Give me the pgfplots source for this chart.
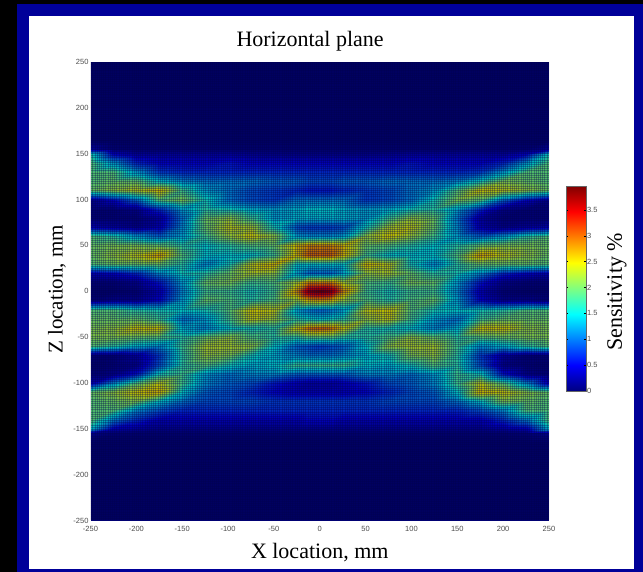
\documentclass[border=0pt]{standalone}
\usepackage{pgfplots}
\pgfplotsset{compat=1.18}
\usepackage{fontspec}
\setmainfont{Liberation Serif}
\newfontfamily\tickfont{Liberation Sans}
\definecolor{navyline}{rgb}{0,0,0.3}
\begin{document}
\begin{tikzpicture}[x=1pt,y=1pt]
\useasboundingbox (0,0) rectangle (643,572);
\fill[black] (0,0) rectangle (643,572);
\fill[black!0!blue!60!black] (17,0) rectangle (643,568);
\fill[white] (29,3) rectangle (634,556);
\begin{axis}[at={(90.5pt,51.5pt)},anchor=south west,scale only axis,width=458.5pt,height=458.5pt,
 xmin=-250,xmax=250,ymin=-250,ymax=250,
 xtick={-250,-200,...,250},ytick={-250,-200,...,250},
 tick style={draw=none},axis line style={draw=none},
 /pgf/number format/assume math mode=true,
 tick label style={font=\tickfont\fontsize{7.5}{8}\selectfont,text=black!70},
 xticklabel style={yshift=-2.5pt},yticklabel style={xshift=1.5pt},
 title={Horizontal plane},title style={font=\fontsize{22}{24}\selectfont,at={(axis description cs:0.479,1.033)},anchor=center},
 xlabel={X location, mm},xlabel style={font=\fontsize{22}{24}\selectfont,at={(axis description cs:0.5,-0.07)},anchor=center},
 ylabel={Z location, mm},ylabel style={font=\fontsize{21}{24}\selectfont,at={(axis description cs:-0.073,0.504)},anchor=center},
 colormap/jet,point meta min=0,point meta max=3.96,
]
\addplot[surf,shader=interp,mesh/cols=23,mesh/ordering=x varies,point meta=explicit] table[x=x,y=y,meta=v]{
x y v
-250 250 0.02
-225 250 0.02
-200 250 0.02
-175 250 0.02
-150 250 0.02
-125 250 0.02
-100 250 0.02
-75 250 0.02
-50 250 0.02
-25 250 0.02
-12.5 250 0.02
0 250 0.02
12.5 250 0.02
25 250 0.02
50 250 0.02
75 250 0.02
100 250 0.02
125 250 0.02
150 250 0.02
175 250 0.02
200 250 0.02
225 250 0.02
250 250 0.02
-250 165 0.03
-225 165 0.03
-200 165 0.03
-175 165 0.03
-150 165 0.03
-125 165 0.03
-100 165 0.03
-75 165 0.03
-50 165 0.03
-25 165 0.03
-12.5 165 0.04
0 165 0.04
12.5 165 0.04
25 165 0.03
50 165 0.03
75 165 0.03
100 165 0.03
125 165 0.03
150 165 0.03
175 165 0.03
200 165 0.03
225 165 0.03
250 165 0.03
-250 155 0.3
-225 155 0.1
-200 155 0.08
-175 155 0.08
-150 155 0.08
-125 155 0.08
-100 155 0.08
-75 155 0.08
-50 155 0.08
-25 155 0.08
-12.5 155 0.08
0 155 0.08
12.5 155 0.08
25 155 0.08
50 155 0.08
75 155 0.08
100 155 0.08
125 155 0.08
150 155 0.08
175 155 0.08
200 155 0.08
225 155 0.1
250 155 0.3
-250 150 1.6
-225 150 0.5
-200 150 0.3
-175 150 0.3
-150 150 0.3
-125 150 0.3
-100 150 0.3
-75 150 0.25
-50 150 0.2
-25 150 0.2
-12.5 150 0.2
0 150 0.2
12.5 150 0.2
25 150 0.2
50 150 0.2
75 150 0.25
100 150 0.3
125 150 0.3
150 150 0.3
175 150 0.3
200 150 0.3
225 150 0.5
250 150 1.6
-250 140 1.9
-225 140 1.3
-200 140 0.7
-175 140 0.5
-150 140 0.5
-125 140 0.5
-100 140 0.6
-75 140 0.5
-50 140 0.5
-25 140 0.5
-12.5 140 0.5
0 140 0.5
12.5 140 0.5
25 140 0.5
50 140 0.5
75 140 0.5
100 140 0.6
125 140 0.5
150 140 0.5
175 140 0.5
200 140 0.7
225 140 1.3
250 140 1.9
-250 130 1.9
-225 130 1.9
-200 130 1.3
-175 130 0.8
-150 130 0.7
-125 130 0.7
-100 130 0.7
-75 130 0.7
-50 130 0.7
-25 130 0.7
-12.5 130 0.7
0 130 0.7
12.5 130 0.7
25 130 0.7
50 130 0.7
75 130 0.7
100 130 0.7
125 130 0.7
150 130 0.7
175 130 0.8
200 130 1.3
225 130 1.9
250 130 1.9
-250 120 1.9
-225 120 2.0
-200 120 2.0
-175 120 1.5
-150 120 1.2
-125 120 1.1
-100 120 1.1
-75 120 1.1
-50 120 1.0
-25 120 1.0
-12.5 120 0.9
0 120 0.9
12.5 120 0.9
25 120 1.0
50 120 1.0
75 120 1.1
100 120 1.1
125 120 1.1
150 120 1.2
175 120 1.6
200 120 2.1
225 120 2.0
250 120 1.9
-250 110 2.0
-225 110 2.2
-200 110 2.4
-175 110 2.6
-150 110 1.8
-125 110 1.3
-100 110 1.1
-75 110 0.9
-50 110 0.8
-25 110 0.7
-12.5 110 0.6
0 110 0.6
12.5 110 0.6
25 110 0.7
50 110 0.8
75 110 0.9
100 110 1.1
125 110 1.3
150 110 1.9
175 110 2.5
200 110 2.4
225 110 2.2
250 110 2.0
-250 100 0.2
-225 100 0.5
-200 100 1.0
-175 100 1.9
-150 100 2.1
-125 100 1.6
-100 100 1.1
-75 100 0.9
-50 100 0.8
-25 100 1.1
-12.5 100 1.1
0 100 1.1
12.5 100 1.1
25 100 1.1
50 100 0.8
75 100 0.9
100 100 1.1
125 100 1.6
150 100 2.1
175 100 1.9
200 100 1.0
225 100 0.5
250 100 0.2
-250 90 0.1
-225 90 0.1
-200 90 0.2
-175 90 0.7
-150 90 1.3
-125 90 1.7
-100 90 1.6
-75 90 1.4
-50 90 1.3
-25 90 1.4
-12.5 90 1.5
0 90 1.5
12.5 90 1.5
25 90 1.4
50 90 1.3
75 90 1.4
100 90 1.6
125 90 1.7
150 90 1.3
175 90 0.7
200 90 0.2
225 90 0.1
250 90 0.1
-250 80 0.1
-225 80 0.1
-200 80 0.1
-175 80 0.3
-150 80 1.1
-125 80 2.0
-100 80 2.2
-75 80 1.8
-50 80 1.3
-25 80 1.4
-12.5 80 1.4
0 80 1.4
12.5 80 1.4
25 80 1.4
50 80 1.3
75 80 1.8
100 80 2.2
125 80 2.0
150 80 1.1
175 80 0.3
200 80 0.1
225 80 0.1
250 80 0.1
-250 70 0.4
-225 70 0.3
-200 70 0.2
-175 70 0.4
-150 70 1.2
-125 70 2.0
-100 70 2.4
-75 70 2.3
-50 70 1.6
-25 70 0.9
-12.5 70 0.8
0 70 0.8
12.5 70 0.8
25 70 0.9
50 70 1.6
75 70 2.3
100 70 2.4
125 70 2.0
150 70 1.2
175 70 0.4
200 70 0.2
225 70 0.3
250 70 0.4
-250 60 1.9
-225 60 1.7
-200 60 1.3
-175 60 1.0
-150 60 1.3
-125 60 1.8
-100 60 2.2
-75 60 2.5
-50 60 2.2
-25 60 1.3
-12.5 60 1.2
0 60 1.2
12.5 60 1.2
25 60 1.3
50 60 2.2
75 60 2.5
100 60 2.2
125 60 1.8
150 60 1.3
175 60 1.0
200 60 1.3
225 60 1.7
250 60 1.9
-250 50 2.0
-225 50 2.1
-200 50 2.1
-175 50 2.0
-150 50 1.7
-125 50 1.5
-100 50 1.7
-75 50 1.9
-50 50 2.0
-25 50 2.6
-12.5 50 2.8
0 50 2.8
12.5 50 2.8
25 50 2.6
50 50 2.0
75 50 1.9
100 50 1.7
125 50 1.5
150 50 1.7
175 50 2.0
200 50 2.1
225 50 2.1
250 50 2.0
-250 40 2.0
-225 40 2.2
-200 40 2.4
-175 40 2.7
-150 40 1.9
-125 40 1.5
-100 40 1.5
-75 40 1.5
-50 40 1.8
-25 40 2.6
-12.5 40 3.0
0 40 3.0
12.5 40 3.0
25 40 2.6
50 40 1.8
75 40 1.5
100 40 1.5
125 40 1.5
150 40 1.9
175 40 2.7
200 40 2.4
225 40 2.2
250 40 2.0
-250 30 1.9
-225 30 2.0
-200 30 2.0
-175 30 2.0
-150 30 1.7
-125 30 1.2
-100 30 1.6
-75 30 2.4
-50 30 2.6
-25 30 1.5
-12.5 30 1.5
0 30 1.5
12.5 30 1.5
25 30 1.5
50 30 2.6
75 30 2.4
100 30 1.6
125 30 1.2
150 30 1.7
175 30 2.0
200 30 2.0
225 30 2.0
250 30 1.9
-250 20 0.4
-225 20 0.5
-200 20 0.7
-175 20 1.2
-150 20 1.6
-125 20 1.7
-100 20 2.0
-75 20 2.3
-50 20 2.2
-25 20 1.3
-12.5 20 1.0
0 20 1.0
12.5 20 1.0
25 20 1.3
50 20 2.2
75 20 2.3
100 20 2.0
125 20 1.7
150 20 1.6
175 20 1.2
200 20 0.7
225 20 0.5
250 20 0.4
-250 10 0.1
-225 10 0.1
-200 10 0.2
-175 10 0.6
-150 10 1.3
-125 10 2.0
-100 10 2.1
-75 10 1.8
-50 10 1.9
-25 10 2.3
-12.5 10 2.8
0 10 2.8
12.5 10 2.8
25 10 2.3
50 10 1.9
75 10 1.8
100 10 2.1
125 10 2.0
150 10 1.3
175 10 0.6
200 10 0.2
225 10 0.1
250 10 0.1
-250 0 0.05
-225 0 0.05
-200 0 0.1
-175 0 0.4
-150 0 1.2
-125 0 1.8
-100 0 1.8
-75 0 1.6
-50 0 1.8
-25 0 2.8
-12.5 0 3.8
0 0 3.96
12.5 0 3.8
25 0 2.8
50 0 1.8
75 0 1.6
100 0 1.8
125 0 1.8
150 0 1.2
175 0 0.4
200 0 0.1
225 0 0.05
250 0 0.05
-250 -10 0.1
-225 -10 0.2
-200 -10 0.2
-175 -10 0.5
-150 -10 1.3
-125 -10 2.0
-100 -10 1.9
-75 -10 1.7
-50 -10 1.9
-25 -10 2.2
-12.5 -10 2.6
0 -10 2.7
12.5 -10 2.6
25 -10 2.2
50 -10 1.9
75 -10 1.7
100 -10 1.9
125 -10 2.0
150 -10 1.3
175 -10 0.5
200 -10 0.2
225 -10 0.2
250 -10 0.1
-250 -20 1.9
-225 -20 1.9
-200 -20 1.7
-175 -20 1.6
-150 -20 1.5
-125 -20 1.6
-100 -20 1.9
-75 -20 2.5
-50 -20 2.4
-25 -20 1.3
-12.5 -20 1.1
0 -20 1.0
12.5 -20 1.1
25 -20 1.3
50 -20 2.4
75 -20 2.5
100 -20 1.9
125 -20 1.6
150 -20 1.5
175 -20 1.6
200 -20 1.7
225 -20 1.9
250 -20 1.9
-250 -30 2.0
-225 -30 2.0
-200 -30 2.0
-175 -30 1.8
-150 -30 1.1
-125 -30 1.3
-100 -30 1.8
-75 -30 2.4
-50 -30 2.2
-25 -30 1.7
-12.5 -30 1.6
0 -30 1.5
12.5 -30 1.6
25 -30 1.7
50 -30 2.2
75 -30 2.4
100 -30 1.8
125 -30 1.3
150 -30 1.1
175 -30 1.8
200 -30 2.0
225 -30 2.0
250 -30 2.0
-250 -40 2.1
-225 -40 2.2
-200 -40 2.5
-175 -40 2.5
-150 -40 1.4
-125 -40 1.2
-100 -40 1.5
-75 -40 1.6
-50 -40 1.7
-25 -40 2.5
-12.5 -40 2.9
0 -40 3.0
12.5 -40 2.9
25 -40 2.5
50 -40 1.7
75 -40 1.6
100 -40 1.5
125 -40 1.2
150 -40 1.4
175 -40 2.5
200 -40 2.5
225 -40 2.2
250 -40 2.1
-250 -50 2.1
-225 -50 2.1
-200 -50 2.0
-175 -50 1.9
-150 -50 1.7
-125 -50 2.0
-100 -50 2.2
-75 -50 1.9
-50 -50 1.7
-25 -50 1.7
-12.5 -50 1.9
0 -50 1.9
12.5 -50 1.9
25 -50 1.7
50 -50 1.7
75 -50 1.9
100 -50 2.2
125 -50 2.0
150 -50 1.7
175 -50 1.9
200 -50 2.0
225 -50 2.1
250 -50 2.1
-250 -60 1.9
-225 -60 1.7
-200 -60 1.4
-175 -60 1.2
-150 -60 1.8
-125 -60 2.3
-100 -60 2.3
-75 -60 2.2
-50 -60 1.5
-25 -60 1.0
-12.5 -60 0.9
0 -60 0.8
12.5 -60 0.9
25 -60 1.0
50 -60 1.5
75 -60 2.2
100 -60 2.3
125 -60 2.3
150 -60 1.8
175 -60 1.2
200 -60 1.4
225 -60 1.7
250 -60 1.9
-250 -70 0.1
-225 -70 0.1
-200 -70 0.3
-175 -70 0.8
-150 -70 1.7
-125 -70 2.2
-100 -70 2.1
-75 -70 1.6
-50 -70 1.4
-25 -70 1.2
-12.5 -70 1.1
0 -70 1.1
12.5 -70 1.1
25 -70 1.2
50 -70 1.4
75 -70 1.6
100 -70 2.1
125 -70 2.2
150 -70 1.7
175 -70 0.8
200 -70 0.3
225 -70 0.1
250 -70 0.1
-250 -80 0.05
-225 -80 0.1
-200 -80 0.2
-175 -80 0.9
-150 -80 1.7
-125 -80 1.9
-100 -80 1.6
-75 -80 1.4
-50 -80 1.5
-25 -80 1.8
-12.5 -80 1.8
0 -80 1.8
12.5 -80 1.8
25 -80 1.8
50 -80 1.5
75 -80 1.4
100 -80 1.6
125 -80 1.9
150 -80 1.7
175 -80 0.9
200 -80 0.2
225 -80 0.1
250 -80 0.05
-250 -90 0.1
-225 -90 0.2
-200 -90 0.6
-175 -90 1.6
-150 -90 1.8
-125 -90 1.3
-100 -90 1.1
-75 -90 1.2
-50 -90 1.2
-25 -90 1.0
-12.5 -90 1.0
0 -90 1.0
12.5 -90 1.0
25 -90 1.0
50 -90 1.2
75 -90 1.2
100 -90 1.1
125 -90 1.3
150 -90 1.8
175 -90 1.6
200 -90 0.6
225 -90 0.2
250 -90 0.1
-250 -100 0.4
-225 -100 1.2
-200 -100 1.9
-175 -100 2.4
-150 -100 1.8
-125 -100 1.2
-100 -100 1.0
-75 -100 0.9
-50 -100 0.6
-25 -100 0.4
-12.5 -100 0.3
0 -100 0.3
12.5 -100 0.3
25 -100 0.4
50 -100 0.6
75 -100 0.9
100 -100 1.0
125 -100 1.2
150 -100 1.8
175 -100 2.4
200 -100 1.9
225 -100 1.2
250 -100 0.4
-250 -110 2.0
-225 -110 2.2
-200 -110 2.5
-175 -110 2.6
-150 -110 1.5
-125 -110 1.0
-100 -110 0.9
-75 -110 0.7
-50 -110 0.5
-25 -110 0.4
-12.5 -110 0.4
0 -110 0.4
12.5 -110 0.4
25 -110 0.4
50 -110 0.5
75 -110 0.7
100 -110 0.9
125 -110 1.0
150 -110 1.5
175 -110 2.6
200 -110 2.5
225 -110 2.2
250 -110 2.0
-250 -120 1.9
-225 -120 2.0
-200 -120 2.1
-175 -120 1.5
-150 -120 1.1
-125 -120 0.9
-100 -120 0.9
-75 -120 0.9
-50 -120 0.8
-25 -120 0.8
-12.5 -120 0.8
0 -120 0.8
12.5 -120 0.8
25 -120 0.8
50 -120 0.8
75 -120 0.9
100 -120 0.9
125 -120 0.9
150 -120 1.1
175 -120 1.5
200 -120 2.1
225 -120 2.0
250 -120 1.9
-250 -130 1.9
-225 -130 1.9
-200 -130 1.2
-175 -130 0.9
-150 -130 0.7
-125 -130 0.7
-100 -130 0.7
-75 -130 0.7
-50 -130 0.7
-25 -130 0.7
-12.5 -130 0.7
0 -130 0.7
12.5 -130 0.7
25 -130 0.7
50 -130 0.7
75 -130 0.7
100 -130 0.7
125 -130 0.7
150 -130 0.7
175 -130 0.9
200 -130 1.2
225 -130 1.9
250 -130 1.9
-250 -140 1.9
-225 -140 1.1
-200 -140 0.7
-175 -140 0.4
-150 -140 0.4
-125 -140 0.4
-100 -140 0.4
-75 -140 0.4
-50 -140 0.4
-25 -140 0.4
-12.5 -140 0.5
0 -140 0.5
12.5 -140 0.5
25 -140 0.4
50 -140 0.4
75 -140 0.4
100 -140 0.4
125 -140 0.4
150 -140 0.4
175 -140 0.4
200 -140 0.7
225 -140 1.1
250 -140 1.9
-250 -150 1.4
-225 -150 0.4
-200 -150 0.3
-175 -150 0.2
-150 -150 0.2
-125 -150 0.2
-100 -150 0.2
-75 -150 0.2
-50 -150 0.2
-25 -150 0.2
-12.5 -150 0.2
0 -150 0.2
12.5 -150 0.2
25 -150 0.2
50 -150 0.2
75 -150 0.2
100 -150 0.2
125 -150 0.2
150 -150 0.2
175 -150 0.2
200 -150 0.3
225 -150 0.4
250 -150 1.4
-250 -155 0.2
-225 -155 0.1
-200 -155 0.08
-175 -155 0.08
-150 -155 0.08
-125 -155 0.08
-100 -155 0.08
-75 -155 0.08
-50 -155 0.08
-25 -155 0.08
-12.5 -155 0.08
0 -155 0.08
12.5 -155 0.08
25 -155 0.08
50 -155 0.08
75 -155 0.08
100 -155 0.08
125 -155 0.08
150 -155 0.08
175 -155 0.08
200 -155 0.08
225 -155 0.1
250 -155 0.2
-250 -165 0.03
-225 -165 0.03
-200 -165 0.03
-175 -165 0.03
-150 -165 0.03
-125 -165 0.03
-100 -165 0.03
-75 -165 0.03
-50 -165 0.03
-25 -165 0.03
-12.5 -165 0.03
0 -165 0.03
12.5 -165 0.03
25 -165 0.03
50 -165 0.03
75 -165 0.03
100 -165 0.03
125 -165 0.03
150 -165 0.03
175 -165 0.03
200 -165 0.03
225 -165 0.03
250 -165 0.03
-250 -250 0.02
-225 -250 0.02
-200 -250 0.02
-175 -250 0.02
-150 -250 0.02
-125 -250 0.02
-100 -250 0.02
-75 -250 0.02
-50 -250 0.02
-25 -250 0.02
-12.5 -250 0.02
0 -250 0.02
12.5 -250 0.02
25 -250 0.02
50 -250 0.02
75 -250 0.02
100 -250 0.02
125 -250 0.02
150 -250 0.02
175 -250 0.02
200 -250 0.02
225 -250 0.02
250 -250 0.02
};
\end{axis}
\begin{scope}
\clip (90.5,51.5) rectangle (549,510);
\fill[black,opacity=.28] (90.5,51.5) rectangle (549,510);
\foreach \i in {0,...,211}{
 \draw[navyline,opacity=.3,line width=.45pt] ({90.5+\i*2.173},51.5) -- ({90.5+\i*2.173},510);
 \draw[navyline,opacity=.3,line width=.45pt] (90.5,{51.5+\i*2.173}) -- (549,{51.5+\i*2.173});
}
\end{scope}
\begin{axis}[at={(566pt,181pt)},anchor=south west,scale only axis,width=20pt,height=205pt,
 xmin=0,xmax=1,ymin=0,ymax=3.96,xtick=\empty,ytick={0,0.5,...,3.5},
 yticklabel pos=right,tick align=inside,
 /pgf/number format/assume math mode=true,
 tick style={draw=black,line width=.3pt},major tick length=2pt,
 yticklabel style={font=\tickfont\fontsize{7.5}{8}\selectfont,text=black!70,xshift=-2.5pt},
 axis line style={draw=black!60,line width=.3pt},axis on top,
 colormap/jet,point meta min=0,point meta max=3.96]
\addplot[surf,shader=interp,mesh/cols=2,mesh/ordering=x varies,point meta=explicit] table[x=x,y=y,meta=v]{
x y v
0 0 0
1 0 0
0 3.96 3.96
1 3.96 3.96
};
\end{axis}
\node[rotate=90,font=\fontsize{22}{24}\selectfont] at (617,280) {Sensitivity \%};
\end{tikzpicture}
\end{document}
